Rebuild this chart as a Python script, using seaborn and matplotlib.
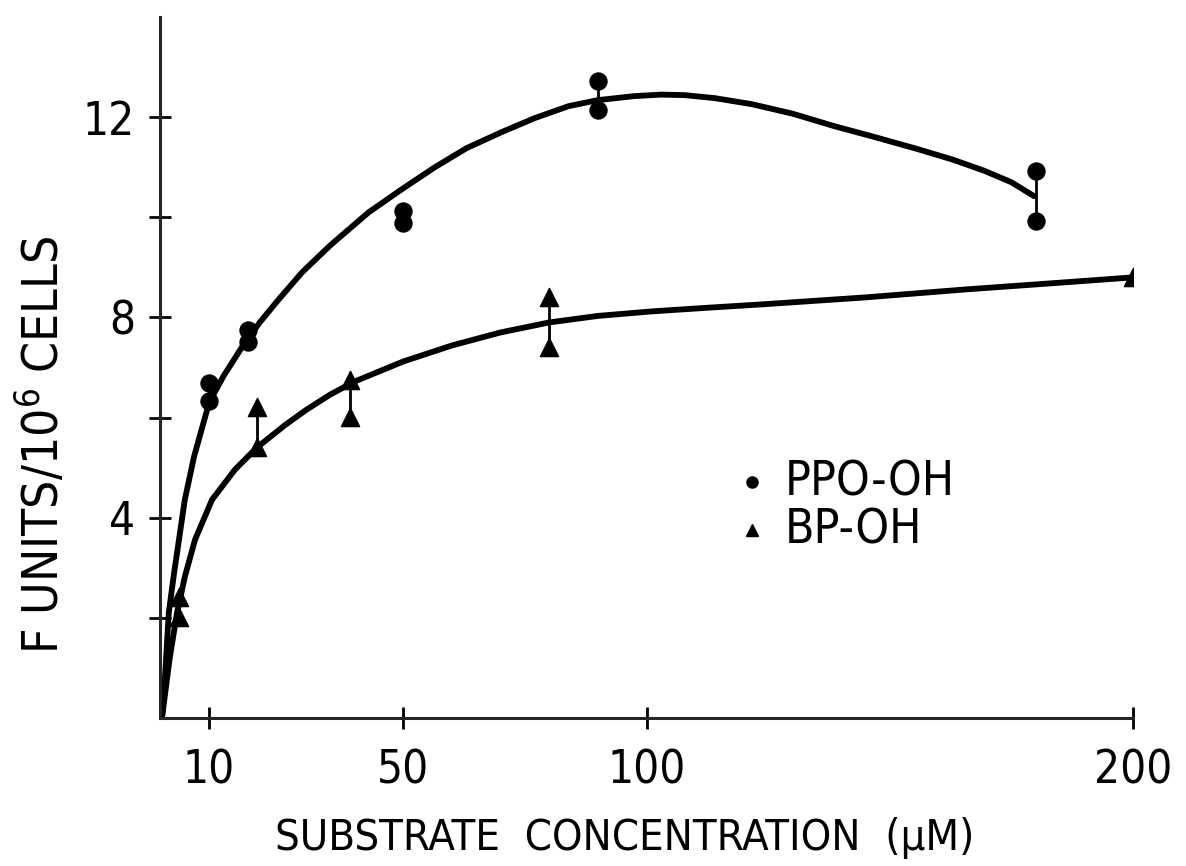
import matplotlib
matplotlib.use("Agg")
import matplotlib.pyplot as plt
import seaborn as sns
import pandas as pd
from matplotlib import font_manager

# ---- data ----
ppo_x = [10, 10, 18, 18, 50, 50, 90, 90, 180, 180]
ppo_y = [6.70, 6.34, 7.74, 7.50, 10.12, 9.88, 12.72, 12.14, 10.92, 9.92]

bp_x = [4, 4, 20, 20, 39, 39, 80, 80, 200]
bp_y = [2.42, 2.02, 6.22, 5.42, 6.76, 6.02, 8.40, 7.40, 8.80]

ppo_curve_x = [0.4, 0.9, 1.8, 2.9, 3.9, 5.1, 7.0, 10.1, 13.0, 16.8, 20.5, 24.4, 29.2,
               35.0, 42.9, 49.7, 56.5, 63.0, 70.2, 77.0, 84.0, 90.0, 97.5, 103.0,
               107.8, 114.0, 121.6, 130.0, 138.6, 147.0, 155.8, 163.0, 169.4, 175.0, 179.7]
ppo_curve_y = [0.0, 0.6, 2.1, 2.9, 3.56, 4.36, 5.22, 6.3, 6.82, 7.4, 7.9, 8.36, 8.9,
               9.44, 10.1, 10.56, 11.0, 11.38, 11.7, 11.98, 12.22, 12.34, 12.42, 12.45,
               12.44, 12.38, 12.26, 12.07, 11.82, 11.6, 11.36, 11.15, 10.93, 10.70, 10.42]

bp_curve_x = [0.4, 2.0, 3.5, 5.1, 7.2, 10.7, 15.4, 19.9, 25.7, 30.0, 35.0, 40.0, 50.0,
              60.0, 70.0, 80.0, 90.0, 101.0, 112.0, 123.6, 145.0, 165.7, 183.0, 200.0]
bp_curve_y = [0.0, 1.2, 2.1, 2.82, 3.56, 4.36, 4.96, 5.4, 5.85, 6.15, 6.46, 6.72, 7.12,
              7.44, 7.7, 7.9, 8.03, 8.12, 8.19, 8.26, 8.4, 8.56, 8.68, 8.8]

x_ticks = [10, 50, 100, 200]
y_ticks = [2, 4, 6, 8, 10, 12]
y_tick_labels = ["", "4", "", "8", "", "12"]
series_names = ["PPO-OH", "BP-OH"]

# ---- fonts ----
sns.set_style("ticks")
fonts = font_manager.fontManager.ttflist
names = {f.name for f in fonts}
stretch = "normal"
size_scale = 1.0
if "Liberation Sans Narrow" in names:
    fam = "Liberation Sans Narrow"
elif any(f.name == "DejaVu Sans" and str(f.stretch) in ("condensed", "semi-condensed") for f in fonts):
    fam = "DejaVu Sans"
    stretch = "condensed"
    size_scale = 0.92
else:
    fam = "Liberation Sans"
    size_scale = 0.85
plt.rcParams["font.family"] = [fam, "DejaVu Sans"]
plt.rcParams["font.stretch"] = stretch

fs = 34 * size_scale

fig = plt.figure(figsize=(11.86, 8.66), dpi=100)
W, H = 1186, 866
ax = fig.add_axes([160 / W, (H - 718) / H, (1133 - 160) / W, (718 - 17) / H])

pts_ppo = pd.DataFrame({"x": ppo_x, "y": ppo_y})
pts_bp = pd.DataFrame({"x": bp_x, "y": bp_y})
cur_ppo = pd.DataFrame({"x": ppo_curve_x, "y": ppo_curve_y})
cur_bp = pd.DataFrame({"x": bp_curve_x, "y": bp_curve_y})

sns.lineplot(data=cur_ppo, x="x", y="y", ax=ax, color="black", lw=4.2, sort=False)
sns.lineplot(data=cur_bp, x="x", y="y", ax=ax, color="black", lw=4.2, sort=False)

# vertical range lines between replicate pairs
for df in (pts_ppo, pts_bp):
    g = df.groupby("x")["y"].agg(["min", "max"]).reset_index()
    g = g[g["max"] > g["min"]]
    ax.vlines(g["x"], g["min"], g["max"], color="black", lw=2)

sns.scatterplot(data=pts_ppo, x="x", y="y", ax=ax, marker="o", s=150,
                color="black", edgecolor="black", zorder=5)
sns.scatterplot(data=pts_bp, x="x", y="y", ax=ax, marker="^", s=170,
                color="black", edgecolor="black", zorder=5)

ax.set_xlim(0, 200)
ax.set_ylim(0, 14)
ax.set_xticks(x_ticks)
ax.set_xticklabels([str(v) for v in x_ticks])
ax.set_yticks(y_ticks)
ax.set_yticklabels(y_tick_labels)
ax.tick_params(axis="both", direction="inout", length=16, width=2,
               labelsize=fs * 1.05, colors="black")
ax.tick_params(axis="x", pad=14)
ax.tick_params(axis="y", pad=10)
for side in ("top", "right"):
    ax.spines[side].set_visible(False)
for side in ("left", "bottom"):
    ax.spines[side].set_linewidth(2.2)
ax.set_xlabel("")
ax.set_ylabel("")

fig.text(625 / W, 1 - 838 / H, "SUBSTRATE  CONCENTRATION  (\u00b5M)",
         ha="center", va="center", fontsize=fs, color="black")
fig.text(42 / W, 1 - 445 / H, "F UNITS/10$^6$ CELLS", rotation=90,
         ha="center", va="center", fontsize=fs * 1.14, color="black")

# legend drawn as text + markers
ly1, ly2 = 0.336, 0.268
ax.plot([0.608], [ly1], marker="o", ms=8, color="black", transform=ax.transAxes)
ax.plot([0.608], [ly2], marker="^", ms=9, color="black", transform=ax.transAxes)
ax.text(0.642, ly1, series_names[0], transform=ax.transAxes, va="center",
        ha="left", fontsize=fs * 1.1, color="black")
ax.text(0.642, ly2, series_names[1], transform=ax.transAxes, va="center",
        ha="left", fontsize=fs * 1.1, color="black")

fig.savefig("out.png", dpi=100, facecolor="white")
